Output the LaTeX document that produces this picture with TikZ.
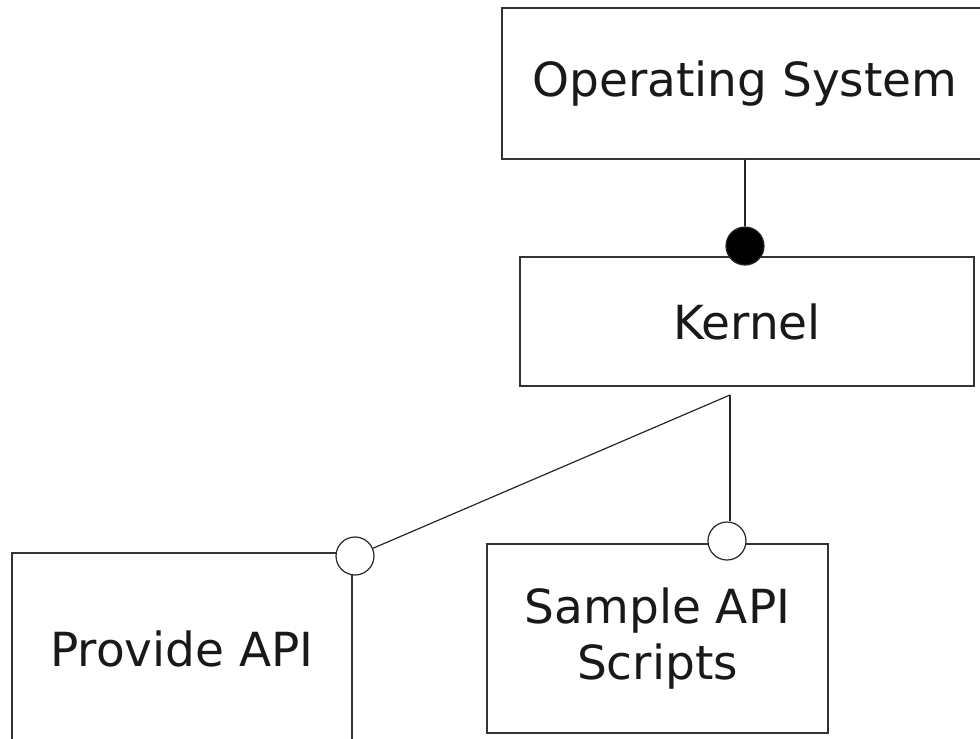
\documentclass[tikz,border=0pt]{standalone}
\usepackage{fontspec}
\setmainfont{DejaVu Sans}

\begin{document}
\begin{tikzpicture}[x=0.5pt,y=-0.5pt,
  laatikko/.style={draw=black!80,line width=0.6pt,fill=white,align=center,inner sep=0pt,
    font=\fontsize{23.5}{28}\selectfont,text=black!90},
  pallo/.style={draw=black!85,line width=0.6pt,circle,inner sep=0pt,minimum size=19pt}]
\useasboundingbox (0,0) rectangle (980,739);
\clip (0,0) rectangle (980,739);
\node[laatikko,minimum width=243pt,minimum height=75.5pt] (os) at (745,83.5) {Operating System};
\node[laatikko,minimum width=227pt,minimum height=64.5pt] (kernel) at (747,321.5) {Kernel};
\node[laatikko,minimum width=170pt,minimum height=96pt] (api) at (182,649) {Provide API};
\node[laatikko,minimum width=170.5pt,minimum height=94.5pt] (skriptit) at (657.5,638.5) {Sample API\\Scripts};
\node[pallo,fill=black] (kiinni) at (745,246) {};
\node[pallo,fill=white] (avo1) at (355,556) {};
\node[pallo,fill=white] (avo2) at (727,541) {};
\coordinate (haara) at (730,395);
\path[draw=black!85,line width=0.6pt] (os) -- (kiinni);
\path[draw=black!85,line width=0.6pt] (haara) -- (avo1);
\path[draw=black!85,line width=0.6pt] (haara) -- (haara |- avo2.north);
\end{tikzpicture}
\end{document}
